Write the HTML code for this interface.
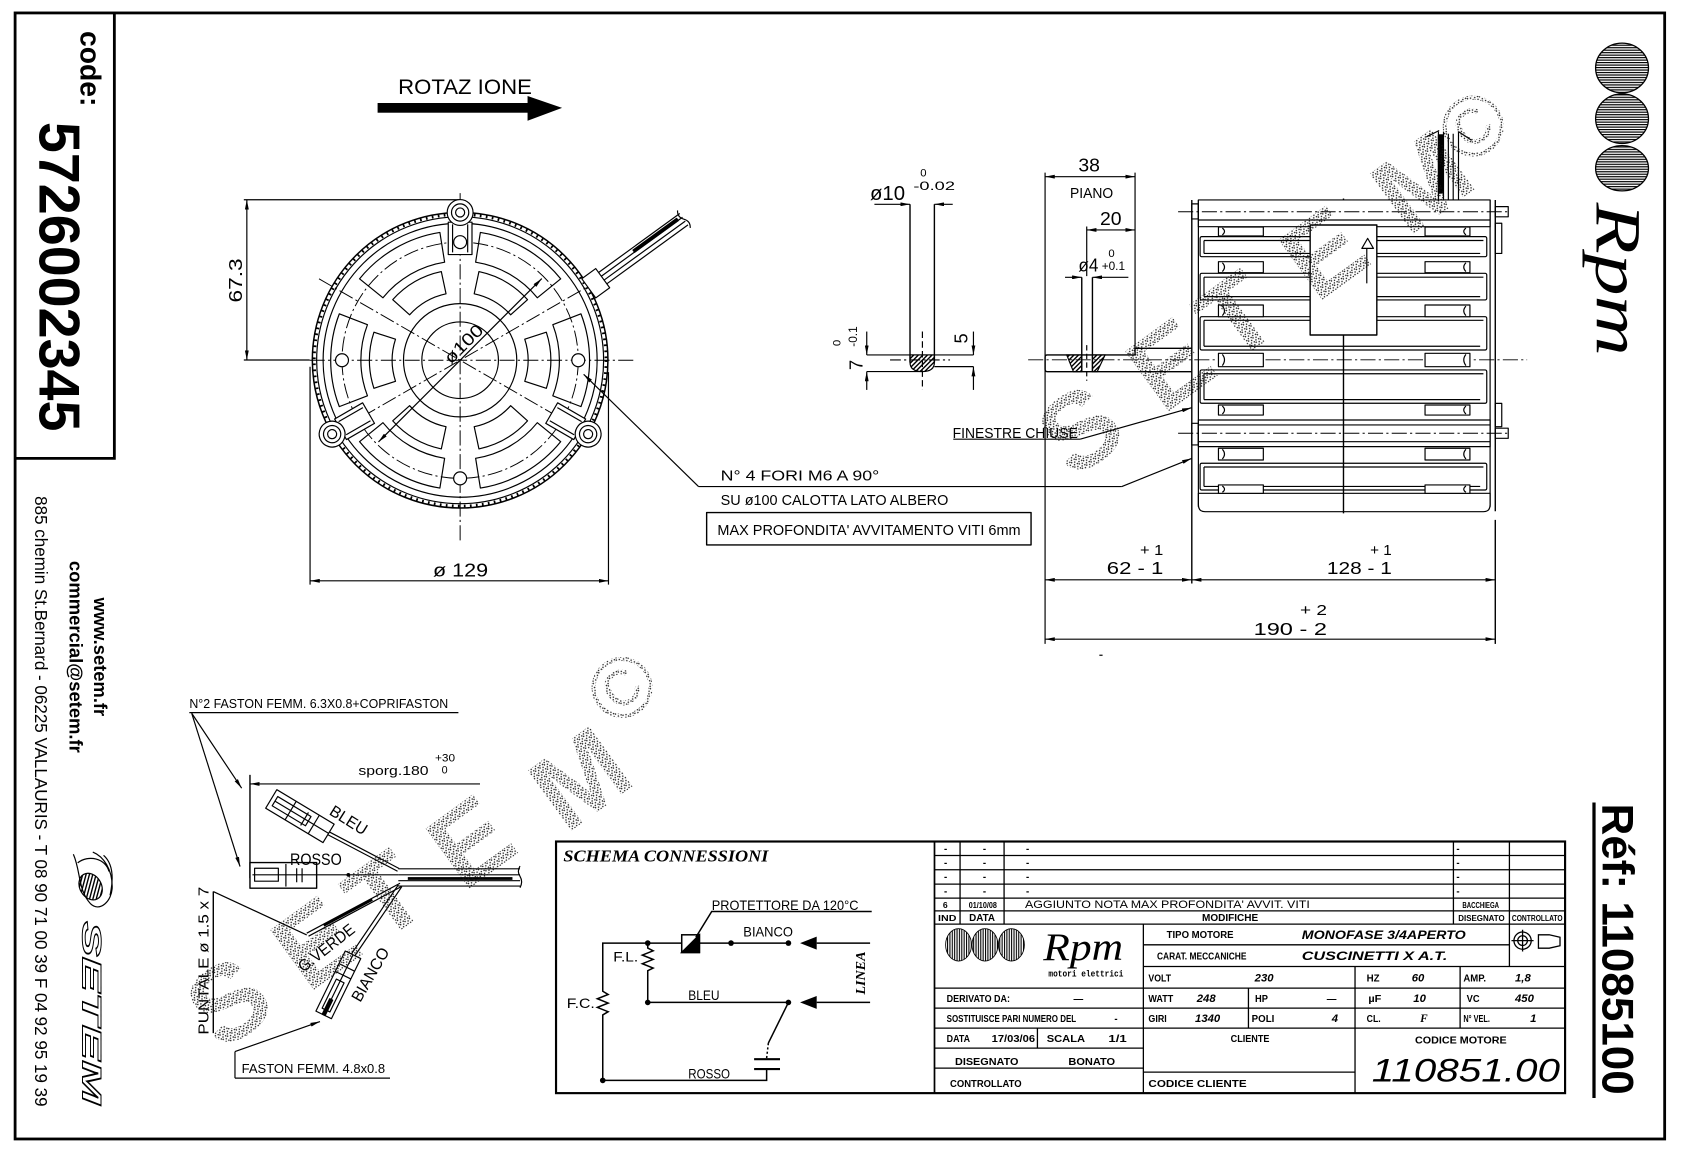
<!DOCTYPE html>
<html><head><meta charset="utf-8">
<style>
html,body{margin:0;padding:0;background:#fff;}
svg{display:block;}
text{font-family:"Liberation Sans",Arial,sans-serif;fill:#000;stroke:none;}
.b{font-weight:bold;}
.sr{font-family:"Liberation Serif",serif;}
.i{font-style:italic;}
</style></head><body>
<svg width="1683" height="1153" viewBox="0 0 1560 1069" preserveAspectRatio="none" xmlns="http://www.w3.org/2000/svg" xmlns:xlink="http://www.w3.org/1999/xlink">
<defs>
<marker id="a" viewBox="0 0 10 4" refX="10" refY="2" markerWidth="9" markerHeight="3.6" markerUnits="userSpaceOnUse" orient="auto-start-reverse"><path d="M0,0L10,2L0,4z" fill="#000" stroke="none"/></marker>
<pattern id="h" width="3" height="3" patternUnits="userSpaceOnUse" patternTransform="rotate(45)"><rect width="1.3" height="3" fill="#000"/></pattern>
<pattern id="s" width="5" height="5" patternUnits="userSpaceOnUse"><rect x="0" y="0" width="1.2" height="1.2" fill="#111"/><rect x="2.6" y="1.2" width="1.2" height="1.2" fill="#111"/><rect x="1.1" y="3.1" width="1.2" height="1.2" fill="#111"/><rect x="3.8" y="3.7" width="1.2" height="1.2" fill="#111"/></pattern>
<pattern id="ln" width="4" height="2.3" patternUnits="userSpaceOnUse"><rect width="4" height="1.1" fill="#000"/></pattern>
<pattern id="lv" width="2.2" height="4" patternUnits="userSpaceOnUse"><rect width="1" height="4" fill="#000"/></pattern>
<path id="so" d="M112.0,-43.0 A120,120 0 0 1 112.0,43.0 L85.9,33.0 A92,92 0 0 0 85.9,-33.0 Z"/>
<path id="si" d="M79.9,-26.0 A84,84 0 0 1 79.9,26.0 L59.9,19.5 A63,63 0 0 0 59.9,-19.5 Z"/>
<g id="lug"><rect x="98" y="-11" width="30" height="22" fill="#fff"/><line x1="100" y1="-7" x2="126" y2="-7"/><line x1="100" y1="7" x2="126" y2="7"/><circle cx="137" cy="0" r="12" fill="#fff"/><circle cx="137" cy="0" r="8"/><circle cx="137" cy="0" r="4.2"/></g>
</defs>
<rect width="1560" height="1069" fill="#fff"/>

<!-- border -->
<rect x="14" y="12" width="1529" height="1044" fill="none" stroke="#000" stroke-width="2.6"/>
<path d="M14,425 H106 V12" fill="none" stroke="#000" stroke-width="2.6"/>
<line x1="1477.5" y1="744" x2="1477.5" y2="1018" stroke="#000" stroke-width="3"/>

<!-- left strip texts -->
<text class="b" font-size="27" text-anchor="middle" dominant-baseline="central" transform="translate(83,63.7) rotate(90)" textLength="70" lengthAdjust="spacingAndGlyphs">code:</text>
<text class="b" font-size="53" text-anchor="middle" dominant-baseline="central" transform="translate(54,256.5) rotate(90)" textLength="287" lengthAdjust="spacingAndGlyphs">5726002345</text>
<text font-size="16" text-anchor="middle" dominant-baseline="central" transform="translate(38,743) rotate(90)" textLength="566" lengthAdjust="spacingAndGlyphs">885 chemin St.Bernard - 06225 VALLAURIS - T 08 90 71 00 39  F 04 92 95 19 39</text>
<text class="b" font-size="17" text-anchor="middle" dominant-baseline="central" transform="translate(70.3,609) rotate(90)" textLength="178" lengthAdjust="spacingAndGlyphs">commercial@setem.fr</text>
<text class="b" font-size="17" text-anchor="middle" dominant-baseline="central" transform="translate(93,609) rotate(90)" textLength="110" lengthAdjust="spacingAndGlyphs">www.setem.fr</text>
<g fill="none" stroke="#000" stroke-width="1.1">
<path d="M68,792 C75,808 72,825 84,838 C92,846 104,836 104,822 C104,806 96,794 86,790 M72,800 C82,792 98,796 101,808"/>
<ellipse cx="84" cy="822" rx="10" ry="13" fill="url(#h)" transform="rotate(-30 84 822)"/>
<path d="M96,793 C104,800 106,812 102,830"/>
</g>
<text class="b i" font-size="25" text-anchor="middle" dominant-baseline="central" transform="translate(85,939) rotate(90)" textLength="170" lengthAdjust="spacingAndGlyphs" style="fill:none;stroke:#000;stroke-width:0.9">SETEM</text>

<!-- right column logo -->
<g stroke="#000" stroke-width="1.2">
<ellipse cx="1503.5" cy="63" rx="24.5" ry="23" fill="url(#ln)"/>
<ellipse cx="1503.5" cy="110" rx="24.5" ry="23" fill="url(#ln)"/>
<ellipse cx="1503.5" cy="156" rx="24.5" ry="21" fill="url(#ln)"/>
</g>
<text class="sr i" font-size="60" text-anchor="middle" dominant-baseline="central" transform="translate(1500,259) rotate(90)" textLength="142" lengthAdjust="spacingAndGlyphs">Rpm</text>
<text class="b" font-size="41" text-anchor="middle" dominant-baseline="central" transform="translate(1499,880) rotate(90)" textLength="270" lengthAdjust="spacingAndGlyphs">Réf: 11085100</text>

<!-- ROTAZIONE -->
<text x="369" y="87" font-size="20" textLength="124" lengthAdjust="spacingAndGlyphs">ROTAZ IONE</text>
<rect x="350" y="95.5" width="141" height="9" fill="#000"/>
<path d="M489,89 L521,100 L489,112 Z" fill="#000"/>

<!-- FRONT VIEW -->
<g fill="none" stroke="#000" stroke-width="1.1" stroke-linejoin="round">
<line x1="226" y1="185.2" x2="426" y2="185.2"/>
<line x1="226" y1="333.8" x2="287" y2="333.8"/>
<line x1="228.8" y1="185.2" x2="228.8" y2="333.8" marker-start="url(#a)" marker-end="url(#a)"/>
<line x1="287.4" y1="340" x2="287.4" y2="542"/>
<line x1="564" y1="345" x2="564" y2="542"/>
<line x1="287.4" y1="538.5" x2="564" y2="538.5" marker-start="url(#a)" marker-end="url(#a)"/>
<circle cx="426.5" cy="334" r="137" stroke-width="1.4" fill="#fff"/>
<circle cx="426.5" cy="334" r="135.2" stroke-width="2.6" stroke-dasharray="1.6 4"/>
<circle cx="426.5" cy="334" r="133"/>
<circle cx="426.5" cy="334" r="127"/>
<g transform="translate(426.5,334)">
<use xlink:href="#so" href="#so"/>
<use xlink:href="#so" href="#so" transform="rotate(60)"/>
<use xlink:href="#so" href="#so" transform="rotate(120)"/>
<use xlink:href="#so" href="#so" transform="rotate(180)"/>
<use xlink:href="#so" href="#so" transform="rotate(240)"/>
<use xlink:href="#so" href="#so" transform="rotate(300)"/>
<use xlink:href="#si" href="#si"/>
<use xlink:href="#si" href="#si" transform="rotate(60)"/>
<use xlink:href="#si" href="#si" transform="rotate(120)"/>
<use xlink:href="#si" href="#si" transform="rotate(180)"/>
<use xlink:href="#si" href="#si" transform="rotate(240)"/>
<use xlink:href="#si" href="#si" transform="rotate(300)"/>
</g>
<circle cx="426.5" cy="334" r="109.5" stroke-width="0.9" stroke-dasharray="14 3 2 3"/>
<circle cx="426.5" cy="334" r="52.5"/>
<circle cx="426.5" cy="334" r="35.5"/>
<g stroke-width="0.9" stroke-dasharray="14 3 2 3">
<line x1="287" y1="334" x2="590" y2="334"/>
<line x1="426.5" y1="179" x2="426.5" y2="503"/>
<line x1="295.7" y1="258.5" x2="557.3" y2="409.5"/>
<line x1="557.3" y1="258.5" x2="295.7" y2="409.5"/>
</g>
<g transform="translate(426.5,334)">
<use xlink:href="#lug" href="#lug" transform="rotate(-90)"/>
<use xlink:href="#lug" href="#lug" transform="rotate(30)"/>
<use xlink:href="#lug" href="#lug" transform="rotate(150)"/>
</g>
<circle cx="426.5" cy="224.5" r="6" fill="#fff"/>
<circle cx="317" cy="334" r="6" fill="#fff"/>
<circle cx="536" cy="334" r="6" fill="#fff"/>
<circle cx="426.5" cy="443.5" r="6" fill="#fff"/>
<line x1="350.8" y1="409.7" x2="502.2" y2="258.3" marker-start="url(#a)" marker-end="url(#a)"/>
<g transform="translate(553,262) rotate(-36)">
<line x1="7" y1="-6.5" x2="100" y2="-6.5"/>
<line x1="7" y1="-2.2" x2="100" y2="-2.2"/>
<line x1="7" y1="2.2" x2="100" y2="2.2"/>
<line x1="7" y1="6.5" x2="100" y2="6.5"/>
<rect x="45" y="-4.6" width="50" height="2.6" fill="#000"/>
<rect x="-9" y="-11" width="16" height="22" fill="#fff"/>
<path d="M100,-10 q-4,5 0,10 q4,5 0,10"/>
</g>
<line x1="647.5" y1="451.1" x2="541" y2="347" marker-end="url(#a)"/>
<line x1="647.5" y1="451.1" x2="1039.8" y2="451.1"/>
<line x1="1039.8" y1="451.1" x2="1104.6" y2="425" marker-end="url(#a)"/>
<line x1="883.6" y1="407.2" x2="1001.2" y2="407.2"/>
<line x1="1001.2" y1="407.2" x2="1104.6" y2="378" marker-end="url(#a)"/>
<rect x="655" y="475.2" width="300.7" height="30" stroke-width="1.3"/>
</g>
<text font-size="17" text-anchor="middle" dominant-baseline="central" transform="translate(218.5,260) rotate(-90)" textLength="41" lengthAdjust="spacingAndGlyphs">67.3</text>
<text x="401.4" y="534.6" font-size="17" textLength="51" lengthAdjust="spacingAndGlyphs">ø 129</text>
<text font-size="16" transform="translate(426.5,334) rotate(-45)" x="-9" y="-3" textLength="44" lengthAdjust="spacingAndGlyphs">ø100</text>
<text x="668" y="445.6" font-size="13.5" textLength="147" lengthAdjust="spacingAndGlyphs">N° 4 FORI M6 A 90°</text>
<text x="668" y="468.1" font-size="13.5" textLength="211" lengthAdjust="spacingAndGlyphs">SU ø100 CALOTTA LATO ALBERO</text>
<text x="665" y="496" font-size="13.5" textLength="281" lengthAdjust="spacingAndGlyphs">MAX PROFONDITA' AVVITAMENTO VITI 6mm</text>
<text x="883" y="406" font-size="14" textLength="116" lengthAdjust="spacingAndGlyphs">FINESTRE CHIUSE</text>

<!-- DETAIL 1 (ø10) -->
<g fill="none" stroke="#000" stroke-width="1.1">
<line x1="810.5" y1="189.4" x2="843.5" y2="189.4" marker-end="url(#a)"/>
<line x1="883.1" y1="189.4" x2="866.1" y2="189.4" marker-end="url(#a)"/>
<line x1="843.5" y1="189.4" x2="843.5" y2="336" stroke-width="1.3"/>
<line x1="866.1" y1="189.4" x2="866.1" y2="336" stroke-width="1.3"/>
<path d="M843.5,329.1 V336 Q843.5,344.5 855,344.5 Q866.1,344.5 866.1,336 V329.1 Z" fill="url(#h)"/>
<line x1="803.4" y1="329.1" x2="902.3" y2="329.1"/>
<line x1="803.4" y1="344.5" x2="855" y2="344.5"/>
<line x1="866.1" y1="339.9" x2="902.3" y2="339.9"/>
<line x1="855" y1="307.4" x2="855" y2="361.5" stroke-dasharray="6 3"/>
<line x1="825" y1="333.7" x2="880.6" y2="333.7" stroke-dasharray="10 3 2 3"/>
<line x1="803.4" y1="307.4" x2="803.4" y2="329.1" marker-end="url(#a)"/>
<line x1="803.4" y1="361.5" x2="803.4" y2="344.5" marker-end="url(#a)"/>
<line x1="902.3" y1="307.4" x2="902.3" y2="329.1" marker-end="url(#a)"/>
<line x1="902.3" y1="361.5" x2="902.3" y2="339.9" marker-end="url(#a)"/>
</g>
<text x="806.4" y="185.4" font-size="19" textLength="32.5" lengthAdjust="spacingAndGlyphs">ø10</text>
<text x="853" y="163.8" font-size="10.5">0</text>
<text x="846.6" y="176.1" font-size="11" textLength="38.6" lengthAdjust="spacingAndGlyphs">-0.02</text>
<text font-size="17" text-anchor="middle" dominant-baseline="central" transform="translate(793.3,338.3) rotate(-90)">7</text>
<text font-size="10.5" text-anchor="middle" dominant-baseline="central" transform="translate(776.4,318) rotate(-90)">0</text>
<text font-size="11" text-anchor="middle" dominant-baseline="central" transform="translate(790.6,312) rotate(-90)">-0.1</text>
<text font-size="17" text-anchor="middle" dominant-baseline="central" transform="translate(890.6,313.8) rotate(-90)">5</text>

<!-- DETAIL 2 (PIANO) -->
<g fill="none" stroke="#000" stroke-width="1.1">
<line x1="968.7" y1="160" x2="968.7" y2="597"/>
<line x1="1052.1" y1="160" x2="1052.1" y2="322.9"/>
<line x1="968.7" y1="163.8" x2="1052.1" y2="163.8" marker-start="url(#a)" marker-end="url(#a)"/>
<line x1="1007.3" y1="210" x2="1007.3" y2="256"/>
<line x1="1007.3" y1="213.2" x2="1052.1" y2="213.2" marker-start="url(#a)" marker-end="url(#a)"/>
<line x1="987.2" y1="257.1" x2="1002.7" y2="257.1" marker-end="url(#a)"/>
<line x1="1045.9" y1="257.1" x2="1012.6" y2="257.1" marker-end="url(#a)"/>
<line x1="1002.7" y1="257.1" x2="1002.7" y2="344.6" stroke-width="1.3"/>
<line x1="1012.6" y1="257.1" x2="1012.6" y2="344.6" stroke-width="1.3"/>
<path d="M988.8,329.1 L1002.7,329.1 L1002.7,344.6 L995,344.6 Z" fill="url(#h)"/>
<path d="M1012.6,329.1 L1024.3,329.1 L1017,344.6 L1012.6,344.6 Z" fill="url(#h)"/>
<path d="M968.7,331 Q968.7,329.1 970.7,329.1 H1052.1 V322.9 H1104.7 M968.7,331 V342.5 Q968.7,344.6 970.7,344.6 H1104.7" stroke-width="1.3"/>
<line x1="1007.3" y1="320" x2="1007.3" y2="353" stroke-dasharray="5 3"/>
<line x1="953" y1="333.6" x2="1415.5" y2="333.6" stroke-width="0.9" stroke-dasharray="14 3 2 3"/>
</g>
<text x="999.6" y="159.2" font-size="17" textLength="20" lengthAdjust="spacingAndGlyphs">38</text>
<text x="991.8" y="183.8" font-size="14" textLength="40" lengthAdjust="spacingAndGlyphs">PIANO</text>
<text x="1019.6" y="208.6" font-size="17" textLength="20" lengthAdjust="spacingAndGlyphs">20</text>
<text x="999.6" y="251.8" font-size="17" textLength="18.5" lengthAdjust="spacingAndGlyphs">ø4</text>
<text x="1027.4" y="238.5" font-size="10.5">0</text>
<text x="1021.2" y="250.3" font-size="11" textLength="21.6" lengthAdjust="spacingAndGlyphs">+0.1</text>

<!-- SIDE VIEW -->
<g fill="none" stroke="#000" stroke-width="1.1" stroke-linejoin="round">
<line x1="1245.3" y1="184" x2="1245.3" y2="476" stroke-width="1.3"/>
<line x1="1104.7" y1="185.4" x2="1104.7" y2="541" stroke-width="1.3"/>
<line x1="1110.8" y1="185.4" x2="1110.8" y2="470"/>
<line x1="1381.2" y1="185.4" x2="1381.2" y2="470"/>
<line x1="1386" y1="185.4" x2="1386" y2="474" stroke-width="1.3"/>
<line x1="1386" y1="482" x2="1386" y2="597" stroke-width="1.3"/>
<rect x="1110.8" y="185.4" width="270.4" height="24.8" fill="#fff"/>
<line x1="1110.8" y1="204" x2="1381.2" y2="204"/>
<line x1="1092" y1="196.3" x2="1400" y2="196.3" stroke-dasharray="14 3 2 3" stroke-width="0.9"/>
<rect x="1104.7" y="189" width="6" height="14"/>
<rect x="1386" y="191.6" width="12" height="9.4"/>
<rect x="1386" y="207" width="6" height="28"/>
<rect x="1386" y="374" width="6" height="21.6"/>
<g>
<rect x="1112.4" y="219.4" width="265.7" height="18.6" rx="1.5"/>
<path d="M1116,223 H1375 M1116,223 V235 M1116,235 H1372"/>
<rect x="1112.4" y="253.4" width="265.7" height="24.7" rx="1.5"/>
<path d="M1116,257 H1375 M1116,257 V275 M1116,275 H1372"/>
<rect x="1112.4" y="293.6" width="265.7" height="30.9" rx="1.5"/>
<path d="M1116,297 H1375 M1116,297 V321 M1116,321 H1372"/>
<rect x="1112.4" y="343" width="265.7" height="30.9" rx="1.5"/>
<path d="M1116,346.5 H1375 M1116,346.5 V370.5 M1116,370.5 H1372"/>
<rect x="1110.8" y="389.4" width="270.4" height="24.7"/>
<line x1="1110.8" y1="394" x2="1381.2" y2="394"/>
<line x1="1110.8" y1="409.5" x2="1381.2" y2="409.5"/>
<rect x="1112.4" y="429.5" width="265.7" height="24.8" rx="1.5"/>
<path d="M1116,433 H1375 M1116,433 V451 M1116,451 H1372"/>
<path d="M1110.8,457.4 H1381.2 V468 Q1381.2,474.4 1375,474.4 H1117 Q1110.8,474.4 1110.8,468 Z"/>
</g>
<line x1="1092" y1="401.7" x2="1400" y2="401.7" stroke-dasharray="14 3 2 3" stroke-width="0.9"/>
<rect x="1104.7" y="392.5" width="6" height="20"/>
<rect x="1386" y="397" width="12" height="9.4"/>
<g fill="#fff">
<rect x="1129.4" y="210.5" width="41.6" height="8.3"/><rect x="1320.9" y="210.5" width="41.6" height="8.3"/>
<rect x="1129.4" y="242.6" width="41.6" height="10.2"/><rect x="1320.9" y="242.6" width="41.6" height="10.2"/>
<rect x="1129.4" y="282.8" width="41.6" height="10.8"/><rect x="1320.9" y="282.8" width="41.6" height="10.8"/>
<rect x="1129.4" y="327.6" width="41.6" height="12.4"/><rect x="1320.9" y="327.6" width="41.6" height="12.4"/>
<rect x="1129.4" y="375.5" width="41.6" height="9.3"/><rect x="1320.9" y="375.5" width="41.6" height="9.3"/>
<rect x="1129.4" y="415.6" width="41.6" height="10.9"/><rect x="1320.9" y="415.6" width="41.6" height="10.9"/>
<rect x="1129.4" y="449.6" width="41.6" height="7.8"/><rect x="1320.9" y="449.6" width="41.6" height="7.8"/>
</g>
<path d="M1133,211.5 q4,3 0,6.3 M1133,243.6 q4,4 0,8.2 M1133,283.8 q4,4.4 0,8.8 M1133,328.6 q4,5 0,10.4 M1133,376.5 q4,3.6 0,7.3 M1133,416.6 q4,4.4 0,8.9 M1133,450.6 q4,3 0,5.8"/>
<path d="M1358.8,211.5 q-4,3 0,6.3 M1358.8,243.6 q-4,4 0,8.2 M1358.8,283.8 q-4,4.4 0,8.8 M1358.8,328.6 q-4,5 0,10.4 M1358.8,376.5 q-4,3.6 0,7.3 M1358.8,416.6 q-4,4.4 0,8.9 M1358.8,450.6 q-4,3 0,5.8"/>
<rect x="1214.4" y="208.6" width="61.8" height="102" fill="#fff" stroke-width="1.3"/>
<path d="M1262.3,230.3 L1267.7,221 L1273.1,230.3 Z"/>
<line x1="1266.9" y1="230.3" x2="1266.9" y2="262.7"/>
<line x1="1333.3" y1="122" x2="1333.3" y2="185.4"/>
<line x1="1338" y1="122" x2="1338" y2="185.4"/>
<line x1="1342.5" y1="124" x2="1342.5" y2="185.4"/>
<line x1="1347" y1="124" x2="1347" y2="185.4"/>
<line x1="1351.9" y1="122" x2="1351.9" y2="185.4"/>
<rect x="1333.3" y="125" width="4" height="54" fill="#000"/>
<path d="M1322,127 L1334,121 M1351.9,122 L1364,130"/>
<line x1="1104.6" y1="537.6" x2="1386" y2="537.6" marker-start="url(#a)" marker-end="url(#a)"/>
<line x1="968.7" y1="537.6" x2="1104.6" y2="537.6" marker-start="url(#a)" marker-end="url(#a)"/>
<line x1="968.7" y1="592.6" x2="1386" y2="592.6" marker-start="url(#a)" marker-end="url(#a)"/>
<line x1="1019" y1="607.5" x2="1022" y2="607.5"/>
</g>
<text x="1056.7" y="514.5" font-size="14" textLength="21.6" lengthAdjust="spacingAndGlyphs">+ 1</text>
<text x="1025.9" y="532.4" font-size="16" textLength="52.4" lengthAdjust="spacingAndGlyphs">62 - 1</text>
<text x="1270" y="514.5" font-size="14" textLength="20" lengthAdjust="spacingAndGlyphs">+ 1</text>
<text x="1229.9" y="532.4" font-size="16" textLength="60.2" lengthAdjust="spacingAndGlyphs">128 - 1</text>
<text x="1205" y="570.2" font-size="14" textLength="25" lengthAdjust="spacingAndGlyphs">+ 2</text>
<text x="1162" y="588.6" font-size="16" textLength="68" lengthAdjust="spacingAndGlyphs">190 - 2</text>

<!-- WIRING -->
<g fill="none" stroke="#000" stroke-width="1.1" stroke-linejoin="round">
<line x1="175.5" y1="660.7" x2="424.9" y2="660.7"/>
<line x1="177.7" y1="661.3" x2="224" y2="730.8" marker-end="url(#a)"/>
<line x1="177.7" y1="661.3" x2="222.5" y2="803.4" marker-end="url(#a)"/>
<line x1="444.9" y1="726.8" x2="231.7" y2="726.8" marker-end="url(#a)"/>
<line x1="231.7" y1="718.4" x2="231.7" y2="814.2" stroke-width="1.3"/>
<g transform="translate(278,756.7) rotate(31)">
<rect x="-31" y="-10" width="62" height="20" fill="#fff"/>
<rect x="-27" y="-5" width="36" height="10"/>
<line x1="-27" y1="0" x2="31" y2="0"/>
<line x1="-10" y1="-10" x2="-10" y2="10"/>
<line x1="5" y1="-7" x2="5" y2="7"/>
<line x1="15" y1="-10" x2="15" y2="10"/>
</g>
<line x1="303.7" y1="773.8" x2="368.5" y2="807.8"/>
<line x1="305.1" y1="771.2" x2="369.9" y2="805.2"/>
<rect x="231.7" y="799.7" width="61.8" height="23.8" fill="#fff" stroke-width="1.3"/>
<line x1="234" y1="811.1" x2="369.2" y2="811.1"/>
<rect x="236" y="805" width="22" height="12"/>
<line x1="265" y1="801" x2="265" y2="822"/>
<line x1="275" y1="805" x2="275" y2="818"/>
<line x1="280" y1="805" x2="280" y2="818"/>
<circle cx="322.9" cy="811.1" r="1.2" fill="#000"/>
<line x1="369.2" y1="805.5" x2="482" y2="805.5"/>
<line x1="369.2" y1="811.1" x2="482" y2="811.1"/>
<line x1="369.2" y1="816.5" x2="482" y2="816.5"/>
<line x1="369.2" y1="821.5" x2="482" y2="821.5"/>
<rect x="378" y="813.2" width="97" height="2.6" fill="#000" stroke="none"/>
<path d="M482,803 q-3,5 0,9.5 q3,5 0,10.5"/>
<line x1="370.8" y1="818.9" x2="284.3" y2="865.2"/>
<line x1="372" y1="822" x2="286" y2="868"/>
<path d="M300,858 L345,834" stroke-width="2.6"/>
<line x1="284.3" y1="866.8" x2="197.7" y2="826.6"/>
<line x1="197.7" y1="826.6" x2="197.7" y2="957.9" stroke-width="1.3"/>
<line x1="369.2" y1="820.4" x2="325.7" y2="884.5"/>
<line x1="372.5" y1="822" x2="329" y2="886"/>
<g transform="translate(313.6,913.1) rotate(-64)">
<rect x="-31" y="-8" width="62" height="16" fill="#fff"/>
<rect x="-26" y="-4" width="30" height="8"/>
<line x1="10" y1="-8" x2="10" y2="8"/>
<line x1="18" y1="-8" x2="18" y2="8"/>
<line x1="-31" y1="0" x2="31" y2="0"/>
<rect x="-31" y="-1.5" width="16" height="3" fill="#000"/>
</g>
<line x1="217.8" y1="999.6" x2="361.5" y2="999.6"/>
<line x1="217.8" y1="975" x2="217.8" y2="999.6"/>
<line x1="217.8" y1="975" x2="296.6" y2="947.1" marker-end="url(#a)"/>
</g>
<text x="175.5" y="656.6" font-size="12" textLength="240" lengthAdjust="spacingAndGlyphs">N°2 FASTON FEMM. 6.3X0.8+COPRIFASTON</text>
<text x="332.2" y="718.4" font-size="12" textLength="65" lengthAdjust="spacingAndGlyphs">sporg.180</text>
<text x="403.2" y="706" font-size="10" textLength="18.6" lengthAdjust="spacingAndGlyphs">+30</text>
<text x="409.4" y="717" font-size="10">0</text>
<text font-size="15" text-anchor="middle" dominant-baseline="central" transform="translate(322.9,760.8) rotate(32)" textLength="38" lengthAdjust="spacingAndGlyphs">BLEU</text>
<text x="268.8" y="801.9" font-size="15" textLength="48" lengthAdjust="spacingAndGlyphs">ROSSO</text>
<text font-size="15" text-anchor="middle" dominant-baseline="central" transform="translate(302.8,879.1) rotate(-38)" textLength="62" lengthAdjust="spacingAndGlyphs">G.VERDE</text>
<text font-size="15" text-anchor="middle" dominant-baseline="central" transform="translate(343.6,903.8) rotate(-60)" textLength="55" lengthAdjust="spacingAndGlyphs">BIANCO</text>
<text font-size="14" text-anchor="middle" dominant-baseline="central" transform="translate(189,890.7) rotate(-90)" textLength="137" lengthAdjust="spacingAndGlyphs">PUNTALE ø 1.5 x 7</text>
<text x="224" y="995" font-size="12" textLength="133" lengthAdjust="spacingAndGlyphs">FASTON FEMM. 4.8x0.8</text>

<!-- BOTTOM BOX / SCHEMA -->
<rect x="515.4" y="780.2" width="935.3" height="233.3" fill="none" stroke="#000" stroke-width="2"/>
<text x="522.2" y="798.7" class="sr i b" font-size="16" textLength="190" lengthAdjust="spacingAndGlyphs">SCHEMA CONNESSIONI</text>
<g fill="none" stroke="#000" stroke-width="1.4" stroke-linejoin="miter">
<path d="M631.9,874.4 H558.7 V919 l5,3 l-10,4 l10,4 l-10,4 l10,4 l-5,3 V1001.7 H710.6 V991.2"/>
<path d="M600.4,874.4 V879 l5,2.5 l-10,4 l10,4 l-10,4 l10,4 l-5,2.5 V929.4 H730.8"/>
<path d="M648.3,874.4 H730.8"/>
<rect x="631.9" y="866.7" width="16.4" height="16.4" fill="#fff"/>
<path d="M648.3,866.7 V883.1 H631.9 Z" fill="#000"/>
<path d="M645,869 L659.7,845.1 H808"/>
<line x1="757" y1="874.4" x2="806.5" y2="874.4"/>
<line x1="757" y1="929.4" x2="806.5" y2="929.4"/>
<path d="M730.8,929.4 L712.2,967.1"/>
<path d="M712.2,967.1 L710.6,981" stroke-dasharray="2 2"/>
<path d="M699,982 H723 M699,991.2 H723" stroke-width="2"/>
</g>
<g fill="#000">
<path d="M741.6,874.4 L757,868.4 L757,880.4Z"/>
<path d="M741.6,929.4 L757,923.4 L757,935.4Z"/>
<circle cx="600.4" cy="874.4" r="2.6"/><circle cx="677.6" cy="874.4" r="2.6"/><circle cx="730.8" cy="874.4" r="2.6"/>
<circle cx="600.4" cy="929.4" r="2.6"/><circle cx="730.8" cy="929.4" r="2.6"/><circle cx="558.7" cy="1001.7" r="2.6"/>
</g>
<text x="659.7" y="843.5" font-size="13" textLength="136" lengthAdjust="spacingAndGlyphs">PROTETTORE DA 120°C</text>
<text x="689" y="868.3" font-size="13" textLength="46" lengthAdjust="spacingAndGlyphs">BIANCO</text>
<text x="568.5" y="891.4" font-size="13" textLength="23" lengthAdjust="spacingAndGlyphs">F.L.</text>
<text x="525.3" y="934.7" font-size="13" textLength="26" lengthAdjust="spacingAndGlyphs">F.C.</text>
<text x="638" y="927" font-size="13" textLength="29" lengthAdjust="spacingAndGlyphs">BLEU</text>
<text x="638" y="1000" font-size="13" textLength="38.7" lengthAdjust="spacingAndGlyphs">ROSSO</text>
<text class="sr i b" font-size="13" text-anchor="middle" dominant-baseline="central" transform="translate(798.7,902.2) rotate(-90)" textLength="40" lengthAdjust="spacingAndGlyphs">LINEA</text>

<!-- TITLE BLOCK -->
<g fill="none" stroke="#000" stroke-width="1.2">
<line x1="866.2" y1="780.2" x2="866.2" y2="1013.5" stroke-width="1.6"/>
<path d="M866.2,793.2 H1450.7 M866.2,806.4 H1450.7 M866.2,819.7 H1450.7 M866.2,832.7 H1450.7 M866.2,844.5 H1450.7 M866.2,856.8 H1450.7"/>
<path d="M889.9,780.2 V856.8 M930.7,780.2 V856.8 M1347.2,780.2 V856.8 M1399.1,780.2 V856.8"/>
<path d="M1059.8,856.8 V1013.5"/>
<path d="M866.2,916.1 H1059.8 M866.2,934.7 H1059.8 M866.2,953.2 H1059.8 M866.2,971.8 H1059.8 M866.2,990.3 H1059.8"/>
<path d="M961.6,953.2 V971.8"/>
<path d="M1059.8,876 H1399.1 M1059.8,896.1 H1450.7 M1059.8,916.1 H1450.7 M1059.8,934.7 H1450.7 M1059.8,953.2 H1450.7 M1059.8,994 H1256"/>
<path d="M1399.1,856.8 V896.1 M1157.2,916.1 V953.2 M1256,896.1 V1013.5 M1353.4,896.1 V953.2"/>
<circle cx="1411.3" cy="872.1" r="8"/>
<circle cx="1411.3" cy="872.1" r="4.5"/>
<path d="M1401,872.1 H1421.5 M1411.3,862 V882.2"/>
<path d="M1426,866.7 H1436 L1446,869 V876.8 L1436,879.1 H1426 Z"/>
</g>
<g stroke="#000" stroke-width="0.8">
<ellipse cx="888.5" cy="876" rx="12" ry="15" fill="url(#lv)"/>
<ellipse cx="913" cy="876" rx="12" ry="15" fill="url(#lv)"/>
<ellipse cx="937.5" cy="876" rx="12" ry="15" fill="url(#lv)"/>
</g>
<text x="967" y="889.9" class="sr i" font-size="36" textLength="74" lengthAdjust="spacingAndGlyphs">Rpm</text>
<text x="971.8" y="905.5" font-family="Liberation Mono" class="b" font-size="8.5" textLength="69.5" lengthAdjust="spacingAndGlyphs" style="font-family:'Liberation Mono',monospace">motori elettrici</text>
<g font-size="9" class="b">
<text x="875" y="790">-</text><text x="911" y="790">-</text><text x="951" y="790">-</text><text x="1350" y="790">-</text>
<text x="875" y="803">-</text><text x="911" y="803">-</text><text x="951" y="803">-</text><text x="1350" y="803">-</text>
<text x="875" y="816">-</text><text x="911" y="816">-</text><text x="951" y="816">-</text><text x="1350" y="816">-</text>
<text x="875" y="829.5">-</text><text x="911" y="829.5">-</text><text x="951" y="829.5">-</text><text x="1350" y="829.5">-</text>
<text x="874" y="842" font-size="8">6</text>
<text x="898" y="842" font-size="7.5" textLength="26" lengthAdjust="spacingAndGlyphs">01/10/08</text>
<text x="950.1" y="842" font-size="10" style="font-weight:normal" textLength="264" lengthAdjust="spacingAndGlyphs">AGGIUNTO NOTA MAX PROFONDITA' AVVIT. VITI</text>
<text x="1372.5" y="842" font-size="7.5" text-anchor="middle" textLength="34" lengthAdjust="spacingAndGlyphs">BACCHIEGA</text>
<text x="878" y="854" font-size="8" text-anchor="middle" textLength="17" lengthAdjust="spacingAndGlyphs">IND</text>
<text x="910.3" y="854" font-size="9" text-anchor="middle" textLength="24" lengthAdjust="spacingAndGlyphs">DATA</text>
<text x="1140.2" y="854" font-size="9" text-anchor="middle" textLength="52" lengthAdjust="spacingAndGlyphs">MODIFICHE</text>
<text x="1373.2" y="854" font-size="7.5" text-anchor="middle" textLength="43" lengthAdjust="spacingAndGlyphs">DISEGNATO</text>
<text x="1424.9" y="854" font-size="7.5" text-anchor="middle" textLength="47" lengthAdjust="spacingAndGlyphs">CONTROLLATO</text>
<text x="1112.4" y="869.9" text-anchor="middle" textLength="62" lengthAdjust="spacingAndGlyphs">TIPO MOTORE</text>
<text x="1113.9" y="889.4" text-anchor="middle" textLength="83" lengthAdjust="spacingAndGlyphs">CARAT. MECCANICHE</text>
<text x="1064.5" y="909.8" textLength="21" lengthAdjust="spacingAndGlyphs">VOLT</text>
<text x="1266.8" y="909.8" textLength="12" lengthAdjust="spacingAndGlyphs">HZ</text>
<text x="1356.4" y="909.8" textLength="21" lengthAdjust="spacingAndGlyphs">AMP.</text>
<text x="1064.5" y="928.9" textLength="23" lengthAdjust="spacingAndGlyphs">WATT</text>
<text x="1163.3" y="928.9" textLength="12" lengthAdjust="spacingAndGlyphs">HP</text>
<text x="1229.8" y="928.9">—</text>
<text x="1268.4" y="928.9" textLength="12" lengthAdjust="spacingAndGlyphs">µF</text>
<text x="1359.5" y="928.9" textLength="12" lengthAdjust="spacingAndGlyphs">VC</text>
<text x="1064.5" y="947.5" textLength="17" lengthAdjust="spacingAndGlyphs">GIRI</text>
<text x="1160.2" y="947.5" textLength="21" lengthAdjust="spacingAndGlyphs">POLI</text>
<text x="1266.8" y="947.5" textLength="13" lengthAdjust="spacingAndGlyphs">CL.</text>
<text x="1356.4" y="947.5" textLength="24.6" lengthAdjust="spacingAndGlyphs">N° VEL.</text>
<text x="1158.7" y="966" text-anchor="middle" textLength="36" lengthAdjust="spacingAndGlyphs">CLIENTE</text>
<text x="1064.5" y="1007.7" textLength="91" lengthAdjust="spacingAndGlyphs">CODICE CLIENTE</text>
<text x="1311.6" y="967.5" textLength="85" lengthAdjust="spacingAndGlyphs">CODICE MOTORE</text>
<text x="877.5" y="928.9" textLength="58.7" lengthAdjust="spacingAndGlyphs">DERIVATO DA:</text>
<text x="995" y="928.9">—</text>
<text x="877.5" y="947.5" textLength="120" lengthAdjust="spacingAndGlyphs">SOSTITUISCE PARI NUMERO DEL</text>
<text x="1033" y="947.5">-</text>
<text x="877.5" y="966" textLength="21.6" lengthAdjust="spacingAndGlyphs">DATA</text>
<text x="919.2" y="966" textLength="40.2" lengthAdjust="spacingAndGlyphs">17/03/06</text>
<text x="970.2" y="966" textLength="35.6" lengthAdjust="spacingAndGlyphs">SCALA</text>
<text x="1027.4" y="966" textLength="17" lengthAdjust="spacingAndGlyphs">1/1</text>
<text x="885.2" y="987.6" textLength="58.8" lengthAdjust="spacingAndGlyphs">DISEGNATO</text>
<text x="990.3" y="987.6" textLength="43.3" lengthAdjust="spacingAndGlyphs">BONATO</text>
<text x="880.6" y="1007.7" textLength="66.4" lengthAdjust="spacingAndGlyphs">CONTROLLATO</text>
</g>
<g class="sr i b" font-size="11">
<text x="1206.6" y="870.5" textLength="152" lengthAdjust="spacingAndGlyphs">MONOFASE  3/4APERTO</text>
<text x="1206.6" y="890" textLength="135" lengthAdjust="spacingAndGlyphs">CUSCINETTI X A.T.</text>
</g>
<g class="b i" font-size="10.5">
<text x="1163" y="910">230</text><text x="1308.6" y="910">60</text><text x="1404.3" y="910">1,8</text>
<text x="1109.3" y="929">248</text><text x="1310" y="929">10</text><text x="1404.3" y="929">450</text>
<text x="1107.7" y="947.6">1340</text><text x="1234.4" y="947.6">4</text><text x="1316.3" y="947.6" class="sr">F</text><text x="1418.3" y="947.6">1</text>
</g>
<text x="1271.5" y="1002.7" class="i" font-size="30" textLength="174.5" lengthAdjust="spacingAndGlyphs">110851.00</text>

<!-- WATERMARKS -->
<g class="b" font-size="100" fill="url(#s)" style="fill:url(#s)" text-anchor="middle" dominant-baseline="central">
<text transform="translate(211.6,928.6) rotate(-36)" style="fill:url(#s)">S</text>
<text transform="translate(292,874) rotate(-36)" style="fill:url(#s)">E</text>
<text transform="translate(357,830) rotate(-36)" style="fill:url(#s)">T</text>
<text transform="translate(436,780) rotate(-36)" style="fill:url(#s)">E</text>
<text transform="translate(537.6,721.5) rotate(-36)" style="fill:url(#s)">M</text>
<text transform="translate(577,638) rotate(-36)" font-size="80" style="fill:url(#s);font-weight:normal">©</text>
<text transform="translate(1001,398) rotate(-36)" style="fill:url(#s)">S</text>
<text transform="translate(1084.4,337.5) rotate(-36)" style="fill:url(#s)">E</text>
<text transform="translate(1145.9,292.9) rotate(-36)" style="fill:url(#s)">T</text>
<text transform="translate(1226.7,234.2) rotate(-36)" style="fill:url(#s)">E</text>
<text transform="translate(1318,168) rotate(-36)" style="fill:url(#s)">M</text>
<text transform="translate(1366,117.5) rotate(-36)" font-size="80" style="fill:url(#s);font-weight:normal">©</text>
</g>
</svg>
</body></html>
